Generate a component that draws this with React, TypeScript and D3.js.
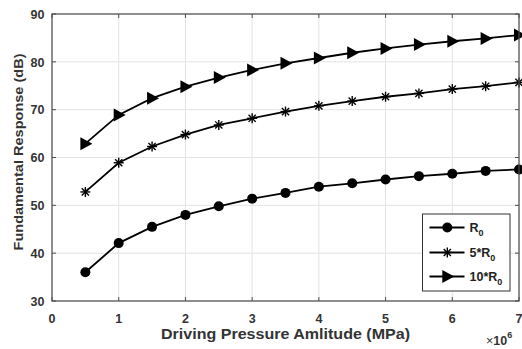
import React from "react";
import * as d3 from "d3";

// Driving pressure amplitude (Pa)
const pressures = [0.5e6, 1e6, 1.5e6, 2e6, 2.5e6, 3e6, 3.5e6, 4e6, 4.5e6, 5e6, 5.5e6, 6e6, 6.5e6, 7e6];
// Fundamental response (dB) for each bubble radius
const respR0 = [36.0, 42.1, 45.5, 48.0, 49.8, 51.4, 52.6, 53.9, 54.6, 55.4, 56.1, 56.6, 57.2, 57.5];
const resp5R0 = [52.8, 58.9, 62.3, 64.8, 66.8, 68.2, 69.6, 70.8, 71.8, 72.7, 73.4, 74.3, 74.9, 75.7];
const resp10R0 = [62.9, 68.9, 72.4, 74.8, 76.7, 78.3, 79.7, 80.8, 81.9, 82.8, 83.6, 84.3, 84.9, 85.6];

const xTicks = [0, 1, 2, 3, 4, 5, 6, 7];
const yTicks = [30, 40, 50, 60, 70, 80, 90];
const legendPrefixes = ["", "5*", "10*"];

const W = 522;
const H = 349;
const M = { left: 52, right: 519, top: 14, bottom: 301 };
const FONT = "'Liberation Sans', Arial, sans-serif";
const AXIS = "#4d4d4d";
const GRID = "#e3e3e3";

type MarkerKind = "circle" | "star" | "tri";

function Marker({ kind, x, y }: { kind: MarkerKind; x: number; y: number }) {
  if (kind === "circle") return <circle cx={x} cy={y} r={5} fill="#000" />;
  if (kind === "star") {
    const s = 5;
    const d = 3.6;
    return (
      <g stroke="#000" strokeWidth={1.4}>
        <line x1={x - s} y1={y} x2={x + s} y2={y} />
        <line x1={x} y1={y - s} x2={x} y2={y + s} />
        <line x1={x - d} y1={y - d} x2={x + d} y2={y + d} />
        <line x1={x - d} y1={y + d} x2={x + d} y2={y - d} />
      </g>
    );
  }
  return (
    <path
      d={`M${x + 7},${y} L${x - 5},${y - 6.5} L${x - 5},${y + 6.5} Z`}
      fill="#000"
    />
  );
}

export default function App() {
  const x = d3.scaleLinear().domain([0, 7e6]).range([M.left, M.right]);
  const y = d3.scaleLinear().domain([30, 90]).range([M.bottom, M.top]);

  const series: { values: number[]; kind: MarkerKind }[] = [
    { values: respR0, kind: "circle" },
    { values: resp5R0, kind: "star" },
    { values: resp10R0, kind: "tri" },
  ];

  const line = d3
    .line<number>()
    .x((_, i) => x(pressures[i]))
    .y((v) => y(v));

  const lg = { x0: 422.5, y0: 214, x1: 510, y1: 291, rows: [227.5, 252.5, 276.5] };

  return (
    <svg
      width={W}
      height={H}
      style={{ position: "absolute", left: 0, top: 0, background: "#fff" }}
      fontFamily={FONT}
    >
      {/* grid */}
      {xTicks.map((t) => (
        <line key={"gx" + t} x1={x(t * 1e6)} x2={x(t * 1e6)} y1={M.top} y2={M.bottom} stroke={GRID} strokeWidth={1} />
      ))}
      {yTicks.map((t) => (
        <line key={"gy" + t} x1={M.left} x2={M.right} y1={y(t)} y2={y(t)} stroke={GRID} strokeWidth={1} />
      ))}

      {/* series */}
      {series.map((s, si) => (
        <g key={si}>
          <path d={line(s.values) || ""} fill="none" stroke="#000" strokeWidth={1.8} />
          {s.values.map((v, i) => (
            <Marker key={i} kind={s.kind} x={x(pressures[i])} y={y(v)} />
          ))}
        </g>
      ))}

      {/* box and ticks */}
      <rect x={M.left} y={M.top} width={M.right - M.left} height={M.bottom - M.top} fill="none" stroke={AXIS} strokeWidth={1.2} />
      {xTicks.map((t) => (
        <g key={"tx" + t} stroke={AXIS} strokeWidth={1}>
          <line x1={x(t * 1e6)} x2={x(t * 1e6)} y1={M.bottom} y2={M.bottom - 4} />
          <line x1={x(t * 1e6)} x2={x(t * 1e6)} y1={M.top} y2={M.top + 4} />
        </g>
      ))}
      {yTicks.map((t) => (
        <g key={"ty" + t} stroke={AXIS} strokeWidth={1}>
          <line x1={M.left} x2={M.left + 4} y1={y(t)} y2={y(t)} />
          <line x1={M.right} x2={M.right - 4} y1={y(t)} y2={y(t)} />
        </g>
      ))}

      {/* tick labels */}
      {xTicks.map((t) => (
        <text key={"lx" + t} x={x(t * 1e6)} y={322.5} textAnchor="middle" fontSize={12.5} fontWeight="bold" fill="#333">
          {t}
        </text>
      ))}
      {yTicks.map((t) => (
        <text key={"ly" + t} x={44.5} y={y(t) + 4.8} textAnchor="end" fontSize={12.5} fontWeight="bold" fill="#333">
          {t}
        </text>
      ))}

      {/* axis labels */}
      <text
        x={(M.left + M.right) / 2}
        y={339}
        textAnchor="middle"
        fontSize={14.5}
        fontWeight="bold"
        fill="#333"
        textLength={249}
        lengthAdjust="spacingAndGlyphs"
      >
        Driving Pressure Amlitude (MPa)
      </text>
      <text
        transform={`translate(23,${(M.top + M.bottom) / 2 - 5.5}) rotate(-90)`}
        textAnchor="middle"
        fontSize={13.5}
        fontWeight="bold"
        fill="#333"
        textLength={197}
        lengthAdjust="spacingAndGlyphs"
      >
        Fundamental Response (dB)
      </text>
      <text x={486} y={345} fontSize={12.5} fill="#333">
        <tspan fontWeight="normal">×</tspan>
        <tspan fontWeight="bold">10</tspan>
        <tspan fontWeight="bold" fontSize={9} dy={-7}>6</tspan>
      </text>

      {/* legend */}
      <rect x={lg.x0} y={lg.y0} width={lg.x1 - lg.x0} height={lg.y1 - lg.y0} fill="#fff" stroke="#333" strokeWidth={1} />
      {series.map((s, i) => (
        <g key={"lg" + i}>
          <line x1={429.5} x2={464.5} y1={lg.rows[i]} y2={lg.rows[i]} stroke="#000" strokeWidth={1.8} />
          <Marker kind={s.kind} x={447.3} y={lg.rows[i]} />
          <text x={469.5} y={lg.rows[i] + 4} fontSize={12.5} fontWeight="bold" fill="#222">
            {legendPrefixes[i]}R
            <tspan fontSize={9} dy={4}>0</tspan>
          </text>
        </g>
      ))}
    </svg>
  );
}
